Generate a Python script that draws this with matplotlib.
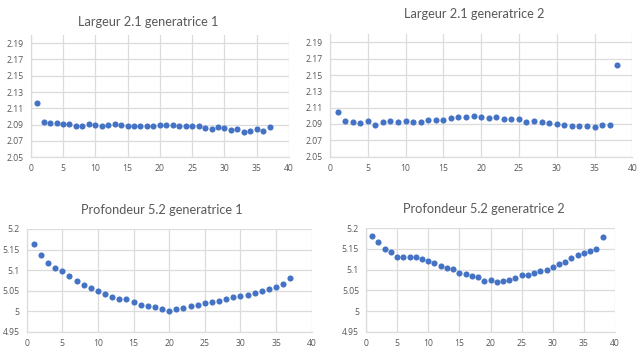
import matplotlib
matplotlib.use("Agg")
import matplotlib.pyplot as plt
from matplotlib.ticker import FuncFormatter

# Measurements along each generatrix
larg_g1 = [2.1165, 2.0929, 2.0924, 2.0916, 2.0904, 2.0904, 2.0884, 2.0890, 2.0910, 2.0894,
           2.0886, 2.0900, 2.0904, 2.0896, 2.0886, 2.0886, 2.0886, 2.0886, 2.0888, 2.0894,
           2.0896, 2.0896, 2.0890, 2.0882, 2.0882, 2.0878, 2.0860, 2.0845, 2.0866, 2.0855,
           2.0835, 2.0842, 2.0816, 2.0828, 2.0848, 2.0820, 2.0870]
larg_g2 = [2.1047, 2.0937, 2.0924, 2.0916, 2.0933, 2.0886, 2.0924, 2.0941, 2.0924, 2.0937,
           2.0924, 2.0929, 2.0953, 2.0949, 2.0945, 2.0973, 2.0982, 2.0982, 2.0994, 2.0986,
           2.0973, 2.0986, 2.0965, 2.0965, 2.0961, 2.0924, 2.0941, 2.0924, 2.0912, 2.0896,
           2.0884, 2.0880, 2.0876, 2.0876, 2.0867, 2.0888, 2.0884, 2.1620]
prof_g1 = [5.1632, 5.1364, 5.1177, 5.1039, 5.0966, 5.0844, 5.0739, 5.0641, 5.0560, 5.0495,
           5.0422, 5.0349, 5.0300, 5.0284, 5.0219, 5.0162, 5.0122, 5.0097, 5.0049, 5.0000,
           5.0049, 5.0089, 5.0114, 5.0146, 5.0195, 5.0235, 5.0244, 5.0300, 5.0333, 5.0365,
           5.0398, 5.0447, 5.0479, 5.0528, 5.0593, 5.0666, 5.0812]
prof_g2 = [5.1823, 5.1669, 5.1500, 5.1419, 5.1306, 5.1306, 5.1306, 5.1298, 5.1258, 5.1210,
           5.1153, 5.1089, 5.1040, 5.1016, 5.0927, 5.0895, 5.0855, 5.0830, 5.0726, 5.0742,
           5.0693, 5.0717, 5.0742, 5.0806, 5.0862, 5.0862, 5.0911, 5.0975, 5.0992, 5.1056,
           5.1145, 5.1193, 5.1274, 5.1346, 5.1395, 5.1443, 5.1500, 5.1790]

titles = ["Largeur 2.1 generatrice 1", "Largeur 2.1 generatrice 2",
          "Profondeur 5.2 generatrice 1", "Profondeur 5.2 generatrice 2"]
x_ticks = [0, 5, 10, 15, 20, 25, 30, 35, 40]
larg_ticks = [2.05, 2.07, 2.09, 2.11, 2.13, 2.15, 2.17, 2.19]
prof_ticks = [4.95, 5.0, 5.05, 5.1, 5.15, 5.2]

W, H = 641, 361
BLUE = "#4472C4"
GRID = "#dcdcdc"
TXT = "#595959"
TITLE_FONT = ["Lato", "DejaVu Sans"]
TICK_FONT = ["Open Sans", "DejaVu Sans"]

fig = plt.figure(figsize=(W / 100, H / 100), dpi=100)
fig.patch.set_facecolor("white")


def px_axes(x0, x1, ytop, ybot):
    return fig.add_axes([x0 / W, 1 - ybot / H, (x1 - x0) / W, (ybot - ytop) / H])


fmt = FuncFormatter(lambda v, p: f"{v:g}")

panels = [
    (px_axes(30.7, 289.0, 35.0, 157.3), larg_g1, larg_ticks, (2.05, 2.20), (148, 21.7)),
    (px_axes(330.0, 632.3, 34.3, 156.6), larg_g2, larg_ticks, (2.05, 2.20), (474, 14.0)),
    (px_axes(26.7, 311.7, 229.0, 331.7), prof_g1, prof_ticks, (4.95, 5.2), (162, 210.0)),
    (px_axes(366.0, 615.0, 228.3, 331.7), prof_g2, prof_ticks, (4.95, 5.2), (483.5, 209.0)),
]

for (ax, vals, yt, ylim, tpos), title in zip(panels, titles):
    xs = list(range(1, len(vals) + 1))
    ax.plot(xs, vals, linestyle="none", marker="o", ms=4.4, color=BLUE,
            markeredgewidth=0, zorder=3)
    ax.set_xlim(0, 40)
    ax.set_ylim(*ylim)
    ax.set_xticks(x_ticks)
    ax.set_yticks(yt)
    ax.yaxis.set_major_formatter(fmt)
    ax.grid(True, color=GRID, linewidth=0.9)
    ax.set_axisbelow(True)
    for s in ("top", "right"):
        ax.spines[s].set_visible(False)
    for s in ("left", "bottom"):
        ax.spines[s].set_color(GRID)
        ax.spines[s].set_linewidth(0.9)
    ax.tick_params(length=0, labelsize=6.2, labelcolor=TXT, pad=5)
    for lab in ax.get_xticklabels() + ax.get_yticklabels():
        lab.set_family(TICK_FONT)
    fig.text(tpos[0] / W, 1 - tpos[1] / H, title, ha="center", va="center",
             fontsize=9.2, color=TXT, family=TITLE_FONT)

fig.savefig("out.png", dpi=100)
